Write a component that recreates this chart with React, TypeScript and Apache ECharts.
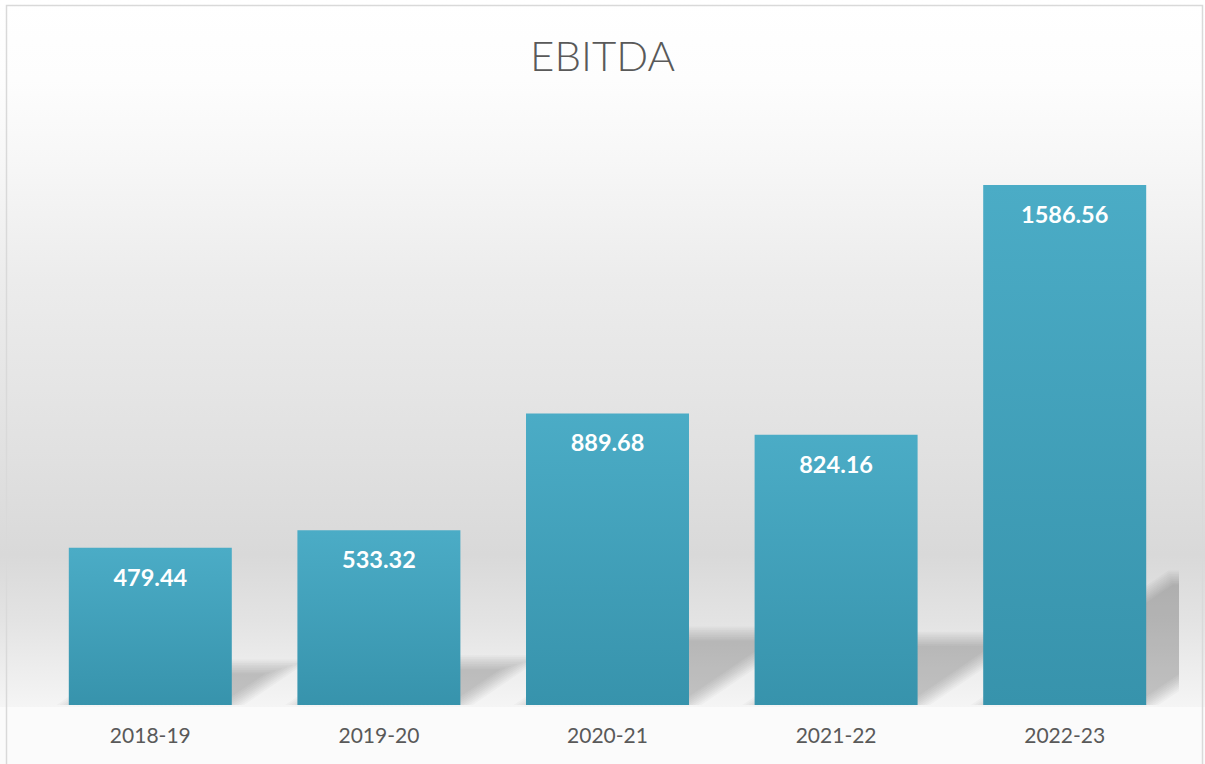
import React, { useEffect, useRef } from "react";
import * as echarts from "echarts";

const categories = ["2018-19", "2019-20", "2020-21", "2021-22", "2022-23"];
const ebitda = [479.44, 533.32, 889.68, 824.16, 1586.56];
const titleText = "EBITDA";
const yMax = 1800;

function offsetPolygon(pts: number[][], d: number): number[][] {
  const n = pts.length;
  const lines: { p: number[]; u: number[] }[] = [];
  for (let i = 0; i < n; i++) {
    const a = pts[i];
    const b = pts[(i + 1) % n];
    const ex = b[0] - a[0];
    const ey = b[1] - a[1];
    const len = Math.hypot(ex, ey) || 1;
    const nx = -ey / len;
    const ny = ex / len;
    lines.push({ p: [a[0] + nx * d, a[1] + ny * d], u: [ex, ey] });
  }
  const out: number[][] = [];
  for (let j = 0; j < n; j++) {
    const L1 = lines[(j - 1 + n) % n];
    const L2 = lines[j];
    const cr = L1.u[0] * L2.u[1] - L1.u[1] * L2.u[0];
    if (Math.abs(cr) < 1e-9) {
      out.push(L2.p);
      continue;
    }
    const qx = L2.p[0] - L1.p[0];
    const qy = L2.p[1] - L1.p[1];
    const t = (qx * L2.u[1] - qy * L2.u[0]) / cr;
    out.push([L1.p[0] + t * L1.u[0], L1.p[1] + t * L1.u[1]]);
  }
  return out;
}

export default function App() {
  const ref = useRef<HTMLDivElement>(null);
  useEffect(() => {
    const chart = echarts.init(ref.current!, null, { renderer: "svg" });
    const barRatio = 0.713;
    const shadowK = 0.245;
    const shadowDx = 0.36;
    const layers = 9;
    const blur = 7;
    const targetAlpha = 0.2;
    const layerAlpha = 1 - Math.pow(1 - targetAlpha, 1 / layers);
    chart.setOption({
      animation: false,
      title: {
        text: titleText,
        left: "center",
        top: 29,
        textStyle: { fontFamily: "Lato", fontWeight: 300, fontSize: 42, color: "#595959" },
      },
      grid: { left: 36, right: 26, top: 115, bottom: 59 },
      xAxis: {
        type: "category",
        data: categories,
        axisLine: { show: false },
        axisTick: { show: false },
        splitLine: { show: false },
        axisLabel: { margin: 19, fontFamily: "Lato", fontSize: 21, color: "#595959" },
      },
      yAxis: { type: "value", min: 0, max: yMax, show: false, splitLine: { show: false } },
      graphic: [
        {
          type: "rect",
          z: -10,
          silent: true,
          shape: { x: 0, y: 0, width: 1205, height: 707 },
          style: {
            fill: new echarts.graphic.LinearGradient(0, 0, 0, 1, [
              { offset: 0, color: "#ffffff" },
              { offset: 0.113, color: "#fdfdfd" },
              { offset: 0.226, color: "#f7f7f7" },
              { offset: 0.396, color: "#ececec" },
              { offset: 0.636, color: "#e1e1e1" },
              { offset: 0.785, color: "#d9d9d9" },
              { offset: 0.877, color: "#e3e3e3" },
              { offset: 1, color: "#f5f5f5" },
            ]),
          },
        },
        {
          type: "rect",
          z: -10,
          silent: true,
          shape: { x: 0, y: 707, width: 1205, height: 57 },
          style: { fill: "#fbfbfb" },
        },
        {
          type: "rect",
          z: 50,
          silent: true,
          shape: { x: 6.5, y: 5.5, width: 1196, height: 800 },
          style: { fill: "none", stroke: "#d9d9d9", lineWidth: 1.5 },
        },
      ],
      series: [
        {
          type: "custom",
          z: 1,
          clip: true,
          silent: true,
          data: ebitda.map((v, i) => [i, v]),
          renderItem: (params: any, api: any) => {
            const i = api.value(0);
            const v = api.value(1);
            const top = api.coord([i, v]);
            const base = api.coord([i, 0]);
            const bw = api.size([1, 0])[0] * barRatio;
            const xl = top[0] - bw / 2;
            const xr = top[0] + bw / 2;
            const h = base[1] - top[1];
            const rise = h * shadowK;
            const dx = h * shadowDx;
            const pts = [
              [xl, base[1]],
              [xr, base[1]],
              [xr + dx, base[1] - rise],
              [xl + dx, base[1] - rise],
            ];
            const children: any[] = [];
            for (let k = 0; k < layers; k++) {
              const d = blur - (2 * blur * k) / (layers - 1);
              children.push({
                type: "polygon",
                shape: { points: offsetPolygon(pts, d) },
                style: { fill: `rgba(0,0,0,${layerAlpha.toFixed(4)})` },
              });
            }
            return { type: "group", children };
          },
        },
        {
          type: "bar",
          z: 3,
          data: ebitda,
          barWidth: "71.3%",
          itemStyle: {
            color: new echarts.graphic.LinearGradient(0, 0, 0, 1, [
              { offset: 0, color: "#4bacc6" },
              { offset: 1, color: "#3793ac" },
            ]),
          },
          label: {
            show: true,
            position: ["50%", 29],
            align: "center",
            verticalAlign: "middle",
            fontFamily: "Lato",
            fontWeight: "bold",
            fontSize: 23.5,
            color: "#ffffff",
            formatter: (p: any) => Number(p.value).toFixed(2),
          },
        },
      ],
    });
    return () => chart.dispose();
  }, []);
  return (
    <div
      ref={ref}
      style={{ position: "absolute", left: 0, top: 0, width: 1205, height: 764 }}
    />
  );
}
